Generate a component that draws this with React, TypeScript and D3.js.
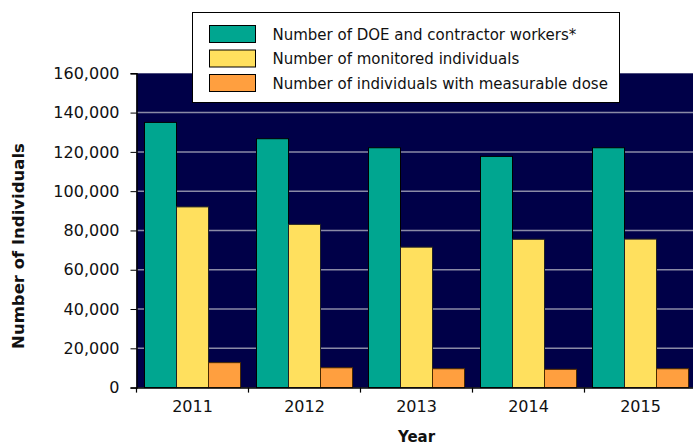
import { useEffect, useRef } from "react";
import * as d3 from "d3";

const years = ["2011", "2012", "2013", "2014", "2015"];
const seriesNames = [
  "Number of DOE and contractor workers*",
  "Number of monitored individuals",
  "Number of individuals with measurable dose",
];
const workers = [135000, 126700, 122100, 117700, 122100];
const monitored = [92000, 83100, 71500, 75500, 75600];
const measurable = [12700, 10100, 9600, 9300, 9600];
const yTicks = [0, 20000, 40000, 60000, 80000, 100000, 120000, 140000, 160000];

const colors = ["#00a690", "#ffe05e", "#ff9f3f"];
const strokes = ["#000000", "#222222", "#4a2a00"];

const width = 693;
const height = 445;
const marginLeft = 136.5;
const plotRight = 696.5;
const plotTop = 73.3;
const plotBottom = 387.6;
const font = "DejaVu Sans, sans-serif";

function drawChart(svgEl: SVGSVGElement) {
  const svg = d3.select(svgEl);
  svg.selectAll("*").remove();

  const series = [workers, monitored, measurable];

  const x0 = d3
    .scaleBand()
    .domain(years)
    .range([marginLeft, plotRight])
    .paddingInner(1 / 7)
    .paddingOuter(1 / 14);
  const x1 = d3
    .scaleBand()
    .domain(["0", "1", "2"])
    .range([0, x0.bandwidth()]);
  const xAxisScale = d3.scaleBand().domain(years).range([marginLeft, plotRight]);
  const y = d3.scaleLinear().domain([0, 160000]).range([plotBottom, plotTop]);

  // plot background
  svg
    .append("rect")
    .attr("x", marginLeft)
    .attr("y", plotTop)
    .attr("width", plotRight - marginLeft)
    .attr("height", plotBottom - plotTop)
    .attr("fill", "#000048");

  // gridlines
  svg
    .append("g")
    .selectAll("line")
    .data(yTicks.filter((d) => d > 0 && d < 160000))
    .join("line")
    .attr("x1", marginLeft)
    .attr("x2", plotRight)
    .attr("y1", (d) => y(d))
    .attr("y2", (d) => y(d))
    .attr("stroke", "#8a8aa6")
    .attr("stroke-width", 1.5);

  // bars
  const groups = svg
    .append("g")
    .selectAll("g")
    .data(years)
    .join("g")
    .attr("transform", (d) => `translate(${x0(d)},0)`);
  groups
    .selectAll("rect")
    .data((d, i) => series.map((s, k) => ({ k, v: s[i] })))
    .join("rect")
    .attr("x", (d) => x1(String(d.k))!)
    .attr("y", (d) => y(d.v))
    .attr("width", x1.bandwidth())
    .attr("height", (d) => plotBottom - y(d.v))
    .attr("fill", (d) => colors[d.k])
    .attr("stroke", (d) => strokes[d.k])
    .attr("stroke-width", 1);

  // y axis
  const yAxis = svg
    .append("g")
    .attr("transform", `translate(${marginLeft},0)`)
    .call(
      d3
        .axisLeft(y)
        .tickValues(yTicks)
        .tickSize(6)
        .tickPadding(11)
        .tickFormat(d3.format(",d")),
    );
  yAxis.select(".domain").attr("stroke", "#000").attr("stroke-width", 1.5);
  yAxis
    .selectAll("text")
    .attr("font-family", font)
    .attr("font-size", 16)
    .attr("fill", "#111");

  // x axis
  const xAxis = svg
    .append("g")
    .attr("transform", `translate(0,${plotBottom})`)
    .call(d3.axisBottom(xAxisScale).tickSize(0).tickPadding(13).tickSizeOuter(0));
  xAxis.select(".domain").attr("stroke", "#000").attr("stroke-width", 1.5);
  xAxis
    .selectAll("text")
    .attr("font-family", font)
    .attr("font-size", 16)
    .attr("fill", "#111");
  // category separators
  svg
    .append("g")
    .selectAll("line")
    .data(years)
    .join("line")
    .attr("x1", (d) => xAxisScale(d)!)
    .attr("x2", (d) => xAxisScale(d)!)
    .attr("y1", plotBottom)
    .attr("y2", plotBottom + 5)
    .attr("stroke", "#000")
    .attr("stroke-width", 1.2);

  // axis titles
  svg
    .append("text")
    .attr("transform", "translate(24,246) rotate(-90)")
    .attr("text-anchor", "middle")
    .attr("font-family", font)
    .attr("font-weight", "bold")
    .attr("font-size", 16.5)
    .attr("fill", "#111")
    .text("Number of Individuals");
  svg
    .append("text")
    .attr("x", (marginLeft + plotRight) / 2)
    .attr("y", 442)
    .attr("text-anchor", "middle")
    .attr("font-family", font)
    .attr("font-weight", "bold")
    .attr("font-size", 15)
    .attr("fill", "#111")
    .text("Year");

  // legend
  const legend = svg.append("g").attr("transform", "translate(192.5,12.5)");
  legend
    .append("rect")
    .attr("width", 427)
    .attr("height", 90)
    .attr("fill", "#fff")
    .attr("stroke", "#000")
    .attr("stroke-width", 1);
  const items = legend
    .selectAll("g")
    .data(seriesNames)
    .join("g")
    .attr("transform", (d, i) => `translate(17,${13 + i * 24.5})`);
  items
    .append("rect")
    .attr("width", 46)
    .attr("height", 17)
    .attr("fill", (d, i) => colors[i])
    .attr("stroke", "#000")
    .attr("stroke-width", 1);
  items
    .append("text")
    .attr("x", 63)
    .attr("y", 14)
    .attr("font-family", font)
    .attr("font-size", 15)
    .attr("fill", "#111")
    .text((d) => d);
}

export default function App() {
  const ref = useRef<SVGSVGElement>(null);
  useEffect(() => {
    if (ref.current) drawChart(ref.current);
  }, []);
  return (
    <svg
      ref={ref}
      width={width}
      height={height}
      style={{ position: "absolute", left: 0, top: 0, background: "#fff" }}
    />
  );
}
